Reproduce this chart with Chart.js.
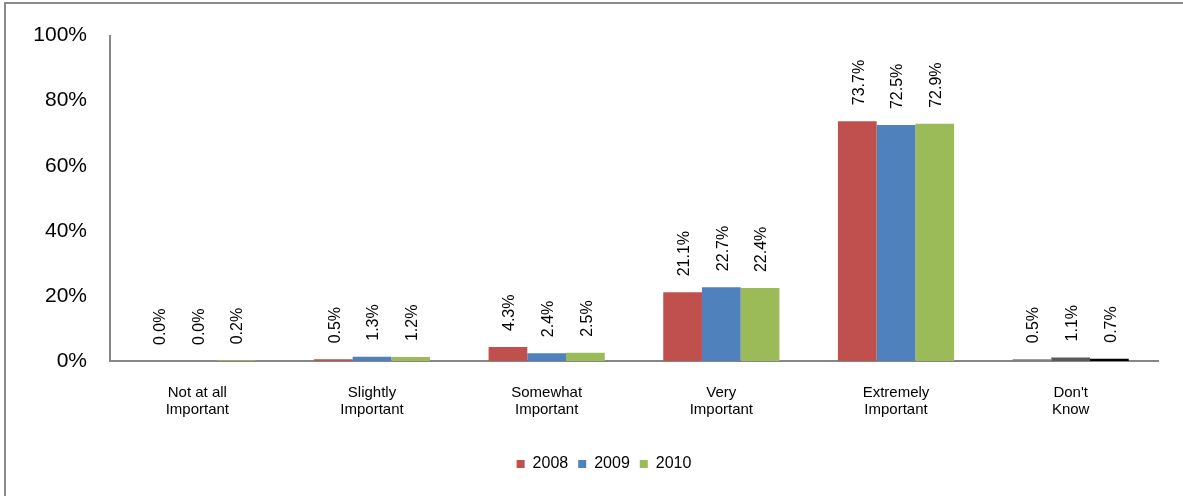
<!DOCTYPE html>
<html lang="en">
<head>
    <meta charset="UTF-8">
    <title>Importance by year</title>
    <script src="https://cdn.jsdelivr.net/npm/chart.js"></script>
    <style>
        body {
            margin: 0;
            background-color: #ffffff;
        }

        #wrap {
            position: absolute;
            left: 0;
            top: 0;
            width: 1183px;
            height: 496px;
        }
    </style>
</head>
<body>

    <div id="wrap">
        <canvas id="importanceChart" width="1183" height="496"></canvas>
    </div>

    <script>
        // Data
        const categories = [
            ['Not at all', 'Important'],
            ['Slightly', 'Important'],
            ['Somewhat', 'Important'],
            ['Very', 'Important'],
            ['Extremely', 'Important'],
            ["Don't", 'Know']
        ];
        const years = ['2008', '2009', '2010'];
        const values2008 = [0.0, 0.5, 4.3, 21.1, 73.7, 0.5];
        const values2009 = [0.0, 1.3, 2.4, 22.7, 72.5, 1.1];
        const values2010 = [0.2, 1.2, 2.5, 22.4, 72.9, 0.7];
        const yTicks = [0, 20, 40, 60, 80, 100];

        // Colours (the "Don't Know" group is drawn in greys)
        const seriesColors = ['#C0504D', '#4F81BD', '#9BBB59'];
        const dontKnowColors = ['#808080', '#5A5A5A', '#000000'];

        function barColor(i) {
            return function(ctx) {
                if (ctx.type === 'data' && ctx.dataIndex === 5) {
                    return dontKnowColors[i];
                }
                return seriesColors[i];
            };
        }

        // Frame lines along the left and top edge
        const framePlugin = {
            id: 'frame',
            beforeDraw(chart) {
                const c = chart.ctx;
                c.save();
                c.strokeStyle = '#8a8a8a';
                c.lineWidth = 2;
                c.beginPath();
                c.moveTo(5, 496);
                c.lineTo(5, 3);
                c.lineTo(1183, 3);
                c.stroke();
                c.restore();
            }
        };

        // Nudge the legend a little to the right, as in the original
        const legendShift = {
            id: 'legendShift',
            afterLayout(chart) {
                chart.legend.left += 25;
                chart.legend.right += 25;
            }
        };

        // Rotated value labels above each bar
        const valueLabels = {
            id: 'valueLabels',
            afterDatasetsDraw(chart) {
                const c = chart.ctx;
                c.save();
                c.font = '16px "Liberation Sans", Arial, sans-serif';
                c.fillStyle = '#000000';
                c.textAlign = 'left';
                c.textBaseline = 'middle';
                chart.data.datasets.forEach(function(ds, di) {
                    const meta = chart.getDatasetMeta(di);
                    meta.data.forEach(function(bar, i) {
                        c.save();
                        c.translate(bar.x + 2, bar.y - 16);
                        c.rotate(-Math.PI / 2);
                        c.fillText(ds.data[i].toFixed(1) + '%', 0, 0);
                        c.restore();
                    });
                });
                c.restore();
            }
        };

        const datasetValues = [values2008, values2009, values2010];

        const importanceChart = new Chart(document.getElementById('importanceChart'), {
            type: 'bar',
            data: {
                labels: categories,
                datasets: years.map(function(y, i) {
                    return {
                        label: y,
                        data: datasetValues[i],
                        backgroundColor: barColor(i),
                        barPercentage: 1,
                        categoryPercentage: 0.665
                    };
                })
            },
            options: {
                responsive: false,
                animation: false,
                layout: {
                    padding: { top: 33, right: 25, bottom: 14, left: 0 }
                },
                plugins: {
                    legend: {
                        position: 'bottom',
                        labels: {
                            boxWidth: 8,
                            boxHeight: 8,
                            padding: 10,
                            color: '#000000',
                            font: { family: '"Liberation Sans", Arial, sans-serif', size: 16 }
                        }
                    },
                    tooltip: { enabled: false }
                },
                scales: {
                    x: {
                        grid: { display: false, drawTicks: false },
                        border: { color: '#868686', width: 2 },
                        ticks: {
                            color: '#000000',
                            padding: 23,
                            maxRotation: 0,
                            font: { family: '"Liberation Sans", Arial, sans-serif', size: 15, lineHeight: 1.15 }
                        },
                        afterFit(scale) {
                            scale.height = 85;
                        }
                    },
                    y: {
                        min: 0,
                        max: 100,
                        grid: { display: false, drawTicks: false },
                        border: { color: '#868686', width: 2 },
                        afterBuildTicks(scale) {
                            scale.ticks = yTicks.map(function(v) { return { value: v }; });
                        },
                        ticks: {
                            color: '#000000',
                            padding: 23,
                            font: { family: '"Liberation Sans", Arial, sans-serif', size: 21 },
                            callback: function(v) { return v + '%'; }
                        },
                        afterFit(scale) {
                            scale.width = 110;
                        }
                    }
                }
            },
            plugins: [framePlugin, legendShift, valueLabels]
        });
    </script>

</body>
</html>
